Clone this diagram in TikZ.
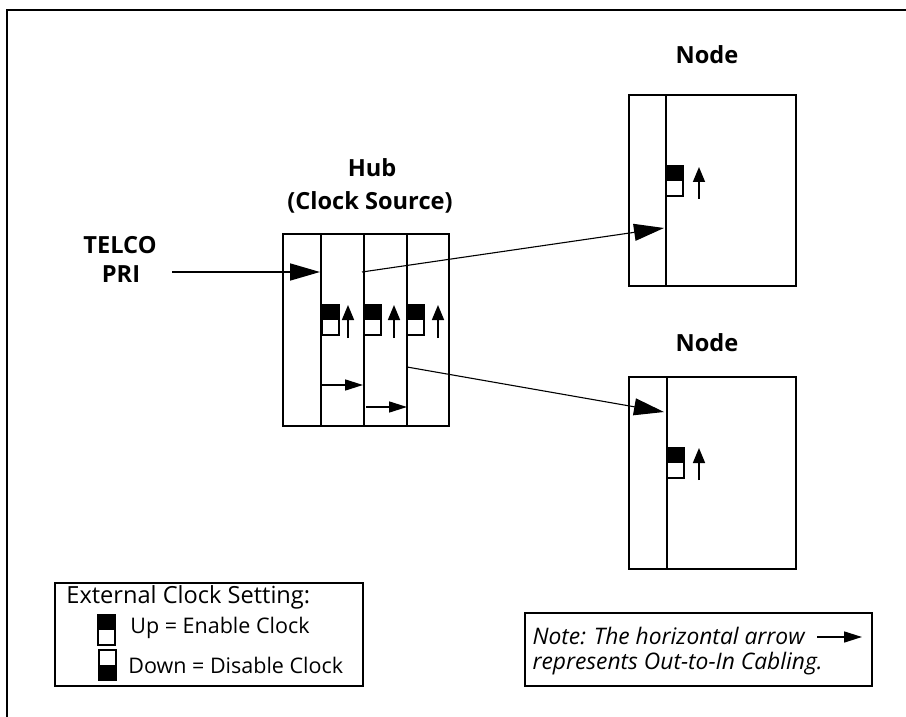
\documentclass[tikz,border=0pt]{standalone}
\usepackage{fontspec}
\setmainfont{Open Sans}
\usetikzlibrary{arrows.meta,positioning}

\begin{document}
\begin{tikzpicture}[x=0.5pt, y=-0.5pt,
  lbl/.style={font=\fontsize{11.8}{14}\selectfont\bfseries, inner sep=0pt},
  txt/.style={font=\fontsize{10.75}{13}\selectfont, anchor=west, inner sep=0pt},
  notetxt/.style={font=\fontsize{11.4}{13}\selectfont\itshape, inner sep=0pt},
  unit/.style={line width=1pt},
  feed/.style={line width=0.55pt, -{Triangle[length=15pt, width=8.5pt]}},
  cable/.style={line width=0.8pt, -{Triangle[length=9pt, width=5.5pt]}},
  clk/.style={line width=0.8pt, -{Triangle[length=7.5pt, width=6pt]}},
  pics/sw/.style={code={\fill (0,#1) rectangle (17,#1+15); \draw[line width=0.8pt] (0,0) rectangle (17,30);}}]
\useasboundingbox (0,0) rectangle (906,717);
\draw[line width=1pt] (7,717) |- (906,10);

\node[lbl] (telco) at (120,245) {TELCO};
\node[lbl] (pri) at (121,274) {PRI};
\node[lbl] (hubname) at (372,168) {Hub};
\node[lbl] (hubsrc) at (370,202) {(Clock Source)};
\node[lbl] (topname) at (707,55) {Node};
\node[lbl] (botname) at (707,343) {Node};

\draw[unit] (283,234) rectangle (449,426);
\foreach \x in {321,364,407} \draw[unit] (\x,234) -- (\x,426);
\draw[unit] (629,95) rectangle (796,286);
\draw[unit] (666,95) -- (666,286);
\draw[unit] (629,377) rectangle (796,569);
\draw[unit] (667,377) -- (667,569);

\foreach \x/\d in {322/26,364/30,407/31} {
  \pic at (\x,305) {sw=0};
  \draw[clk] (\x+\d,338) -- (\x+\d,305);
}
\pic at (666,166) {sw=0};
\draw[clk] (699,199) -- (699,167);
\pic at (667,448) {sw=0};
\draw[clk] (699,480) -- (699,448);

\coordinate (telcoOut) at (172,272);
\coordinate (hubIn) at (320,272);
\coordinate (hubOutA) at (362,272);
\coordinate (hubOutB) at (407,367);
\coordinate (topIn) at (664,228);
\coordinate (botIn) at (664,412);
\coordinate (cabA1) at (322,385);
\coordinate (cabA2) at (363,385);
\coordinate (cabB1) at (366,407);
\coordinate (cabB2) at (407,407);

\draw[feed, line width=0.85pt] (telcoOut) -- (hubIn);
\draw[feed] (hubOutA) -- (topIn);
\draw[feed] (hubOutB) -- (botIn);
\draw[cable] (cabA1) -- (cabA2);
\draw[cable] (cabB1) -- (cabB2);

\draw[unit] (55,583) rectangle (363,686);
\node[txt, font=\fontsize{11.8}{14}\selectfont] (legtitle) at (66,597) {External Clock Setting:};
\pic at (98,615) {sw=0};
\node[txt] (legup) at (130,628) {Up = Enable Clock};
\pic at (99,650) {sw=15};
\node[txt] (legdown) at (128,665) {Down = Disable Clock};

\coordinate (noteRow) at (0,636);
\coordinate (noteTop) at (0,613);
\node[notetxt, anchor=east] (noteB) at (823,664) {represents Out-to-In Cabling.};
\node[notetxt, anchor=west] (noteA) at (noteB.west |- noteRow) {Note: The horizontal arrow};
\path (noteB.west) ++(-7,0) coordinate (noteLeft);
\draw[unit] (noteLeft |- noteTop) rectangle (872,686);
\coordinate (noteArrA) at (817,637);
\coordinate (noteArrB) at (862,637);
\draw[cable] (noteArrA) -- (noteArrB);
\end{tikzpicture}
\end{document}
